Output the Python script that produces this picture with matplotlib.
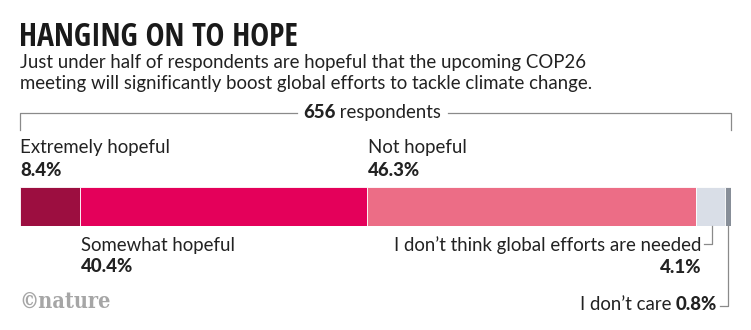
import matplotlib
matplotlib.use("Agg")
import matplotlib.pyplot as plt

categories = ["Extremely hopeful", "Somewhat hopeful", "Not hopeful",
              "I don\u2019t think global efforts are needed", "I don\u2019t care"]
values = [8.4, 40.4, 46.3, 4.1, 0.8]
value_labels = ["8.4%", "40.4%", "46.3%", "4.1%", "0.8%"]
colors = ["#9c0e40", "#e4005a", "#ec6d86", "#d9dee7", "#878e98"]
respondents = 656

W, H = 751, 330
fig = plt.figure(figsize=(W / 100, H / 100), dpi=100)
fig.patch.set_facecolor("white")
renderer = fig.canvas.get_renderer()

def fx(x):
    return x / W

def fy(y):
    return 1 - y / H

TXT = "#222222"
FONT = "Lato"
FS = 13.4

# Title and subtitle
title = fig.text(fx(19), fy(46), "HANGING ON TO HOPE", fontsize=24, fontweight="black",
                 fontstretch="condensed",
                 family=["Open Sans Condensed", "Roboto Condensed", "Liberation Sans Narrow",
                         "DejaVu Sans Condensed", "Roboto"],
                 color="#1a1a1a", va="baseline")
tw = title.get_window_extent(renderer=renderer).width
if tw > 285:
    title.set_fontsize(24 * 280 / tw)
fig.text(fx(20), fy(68), "Just under half of respondents are hopeful that the upcoming COP26",
         fontsize=FS, family=FONT, color=TXT, va="baseline")
fig.text(fx(20), fy(89), "meeting will significantly boost global efforts to tackle climate change.",
         fontsize=FS, family=FONT, color=TXT, va="baseline")

# Bar
bx0, bx1 = 20, 730.7
by0, by1 = 186.7, 226
bax = fig.add_axes([fx(bx0), fy(by1), (bx1 - bx0) / W, (by1 - by0) / H])
left = 0
lefts = []
for v, c in zip(values, colors):
    bax.barh(0, v, left=left, color=c, height=1, edgecolor="white", linewidth=0.6)
    lefts.append(left)
    left += v
bax.set_xlim(0, sum(values))
bax.set_ylim(-0.5, 0.5)
bax.axis("off")

def xpix(val):
    return bx0 + (bx1 - bx0) * val / sum(values)

def width_px(t):
    return t.get_window_extent(renderer=renderer).width

# Respondents bracket
lc = "#8a8a8a"
t1 = fig.text(fx(303), fy(118), f"{respondents}", fontsize=FS, family=FONT, fontweight="black",
              color=TXT, va="baseline")
w1 = width_px(t1)
t2 = fig.text(fx(303 + w1), fy(118), " respondents", fontsize=FS, family=FONT, color=TXT, va="baseline")
w2 = width_px(t2)
tx_end = 303 + w1 + w2
fig.add_artist(plt.Line2D([fx(bx0), fx(bx0), fx(297)], [fy(130), fy(113), fy(113)], color=lc, lw=0.9))
fig.add_artist(plt.Line2D([fx(tx_end + 7), fx(bx1), fx(bx1)], [fy(113), fy(113), fy(130)], color=lc, lw=0.9))

# Labels above
fig.text(fx(xpix(lefts[0])), fy(153.5), categories[0], fontsize=FS, family=FONT, color=TXT, va="baseline")
fig.text(fx(xpix(lefts[0])), fy(175.5), value_labels[0], fontsize=FS, family=FONT, fontweight="black", color=TXT, va="baseline")
fig.text(fx(xpix(lefts[2]) + 1), fy(153.5), categories[2], fontsize=FS, family=FONT, color=TXT, va="baseline")
fig.text(fx(xpix(lefts[2]) + 1), fy(175.5), value_labels[2], fontsize=FS, family=FONT, fontweight="black", color=TXT, va="baseline")

# Labels below
fig.text(fx(xpix(lefts[1]) + 1), fy(250.5), categories[1], fontsize=FS, family=FONT, color=TXT, va="baseline")
fig.text(fx(xpix(lefts[1]) + 1), fy(272.5), value_labels[1], fontsize=FS, family=FONT, fontweight="black", color=TXT, va="baseline")

x3 = xpix(lefts[3] + values[3] * 0.55)
fig.add_artist(plt.Line2D([fx(x3), fx(x3), fx(704)], [fy(by1), fy(244), fy(244)], color=lc, lw=0.9))
fig.text(fx(701), fy(250.5), categories[3], fontsize=FS, family=FONT, color=TXT, va="baseline", ha="right")
fig.text(fx(701), fy(273), value_labels[3], fontsize=FS, family=FONT, fontweight="black", color=TXT, va="baseline", ha="right")

x4 = xpix(lefts[4] + values[4] * 0.5)
fig.add_artist(plt.Line2D([fx(x4), fx(x4), fx(720)], [fy(by1), fy(306), fy(306)], color=lc, lw=0.9))
t4 = fig.text(fx(717), fy(310), value_labels[4], fontsize=FS, family=FONT, fontweight="black", color=TXT, va="baseline", ha="right")
w4 = width_px(t4)
fig.text(fx(717 - w4), fy(310), categories[4] + " ", fontsize=FS, family=FONT, color=TXT, va="baseline", ha="right")

# Logo
fig.text(fx(19), fy(308), "\u00a9nature", fontsize=15.5, family="DejaVu Serif", fontweight="bold",
         fontstretch="condensed", color="#a6a6a6", va="baseline")

fig.savefig("out.png", dpi=100, facecolor="white")
